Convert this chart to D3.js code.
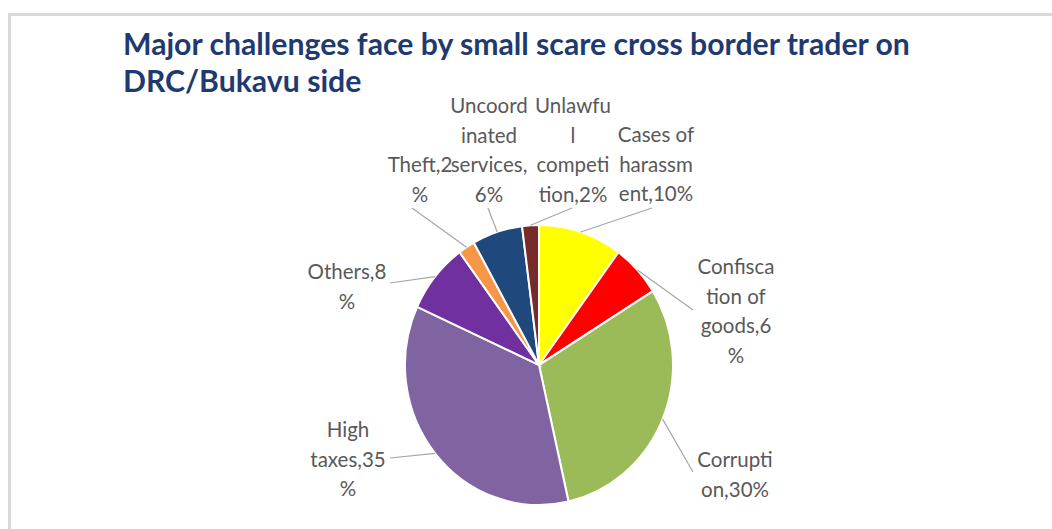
<!DOCTYPE html>
<html>
<head>
<meta charset="utf-8">
<script src="https://cdn.jsdelivr.net/npm/d3@7"></script>
<style>
  body { margin: 0; background: #fff; }
  svg { display: block; }
</style>
</head>
<body>
<svg id="chart" width="1052" height="529"></svg>
<script>
// data
var categories = ["Cases of harassment", "Confiscation of goods", "Corruption", "High taxes",
                  "Others", "Theft", "Uncoordinated services", "Unlawful competition"];
var values = [10, 6, 30, 35, 8, 2, 6, 2];
var colors = ["#ffff00", "#ff0000", "#9bbb59", "#8064a2", "#7030a0", "#f79646", "#1f497d", "#772c2a"];
// label text as wrapped in the original
var labelLines = [
  ["Cases of", "harassm", "ent,10%"],
  ["Confisca", "tion of", "goods,6", "%"],
  ["Corrupti", "on,30%"],
  ["High", "taxes,35", "%"],
  ["Others,8", "%"],
  ["Theft,2", "%"],
  ["Uncoord", "inated", "services,", "6%"],
  ["Unlawfu", "l", "competi", "tion,2%"]
];
var titleLines = ["Major challenges face by small scare cross border trader on", "DRC/Bukavu side"];

// layout: label block (center x, first line y) and where the leader line meets the label
var labelLayout = [
  {x: 656, y: 135, lx: 652, ly: 208},
  {x: 736, y: 267, lx: 693, ly: 310},
  {x: 735, y: 460, lx: 693, ly: 472},
  {x: 348, y: 430, lx: 390, ly: 458},
  {x: 347, y: 272, lx: 390, ly: 283},
  {x: 420, y: 165, lx: 412, ly: 208},
  {x: 489, y: 106, lx: 488, ly: 208},
  {x: 573, y: 106, lx: 572, ly: 208}
];

var svg = d3.select("#chart");
var cx = 539, cy = 365, radius = 134, yStretch = 1.045, lineH = 29.5;

// frame
svg.append("rect")
    .attr("x", 9.5).attr("y", 14.5)
    .attr("width", 1100).attr("height", 600)
    .attr("fill", "none")
    .attr("stroke", "#d9d9d9")
    .attr("stroke-width", 3);

// title
var title = svg.append("g").attr("class", "title");
titleLines.forEach(function(t, i) {
  title.append("text")
      .attr("x", 123)
      .attr("y", 55 + i * 37)
      .attr("font-family", "Lato, 'Open Sans', sans-serif")
      .attr("font-weight", "bold")
      .attr("font-size", 24)
      .attr("fill", "#1f3a70")
      .text(t);
});
// fit first title line to the original width
var t0 = title.select("text").node();
var fs = 24 * 787 / t0.getComputedTextLength();
title.selectAll("text").attr("font-size", fs);

var data = categories.map(function(c, i) { return {name: c, value: values[i], i: i}; });

var pie = d3.pie().sort(null).value(function(d) { return d.value; });
var arc = d3.arc().innerRadius(0).outerRadius(radius);
var arcs = pie(data);

var g = svg.append("g")
    .attr("transform", "translate(" + cx + "," + cy + ") scale(1," + yStretch + ")");

g.selectAll("path.slice")
    .data(arcs)
  .enter().append("path")
    .attr("class", "slice")
    .attr("d", arc)
    .attr("fill", function(d) { return colors[d.data.i]; })
    .attr("stroke", "#fff")
    .attr("stroke-width", 2);

// leader lines
function edgePoint(d) {
  var a = (d.startAngle + d.endAngle) / 2;
  return [cx + radius * Math.sin(a), cy - radius * yStretch * Math.cos(a)];
}

svg.selectAll("line.leader")
    .data(arcs)
  .enter().append("line")
    .attr("class", "leader")
    .attr("x1", function(d) { return edgePoint(d)[0]; })
    .attr("y1", function(d) { return edgePoint(d)[1]; })
    .attr("x2", function(d) { return labelLayout[d.data.i].lx; })
    .attr("y2", function(d) { return labelLayout[d.data.i].ly; })
    .attr("stroke", "#a6a6a6")
    .attr("stroke-width", 1.2);

// labels
var labels = svg.selectAll("text.label")
    .data(arcs)
  .enter().append("text")
    .attr("class", "label")
    .attr("text-anchor", "middle")
    .attr("font-family", "Lato, 'Open Sans', sans-serif")
    .attr("font-size", 20.5)
    .attr("fill", "#595959");

labels.each(function(d) {
  var pos = labelLayout[d.data.i];
  var el = d3.select(this);
  labelLines[d.data.i].forEach(function(line, k) {
    el.append("tspan")
        .attr("x", pos.x)
        .attr("y", pos.y + k * lineH)
        .attr("dy", "0.35em")
        .text(line);
  });
});
</script>
</body>
</html>
